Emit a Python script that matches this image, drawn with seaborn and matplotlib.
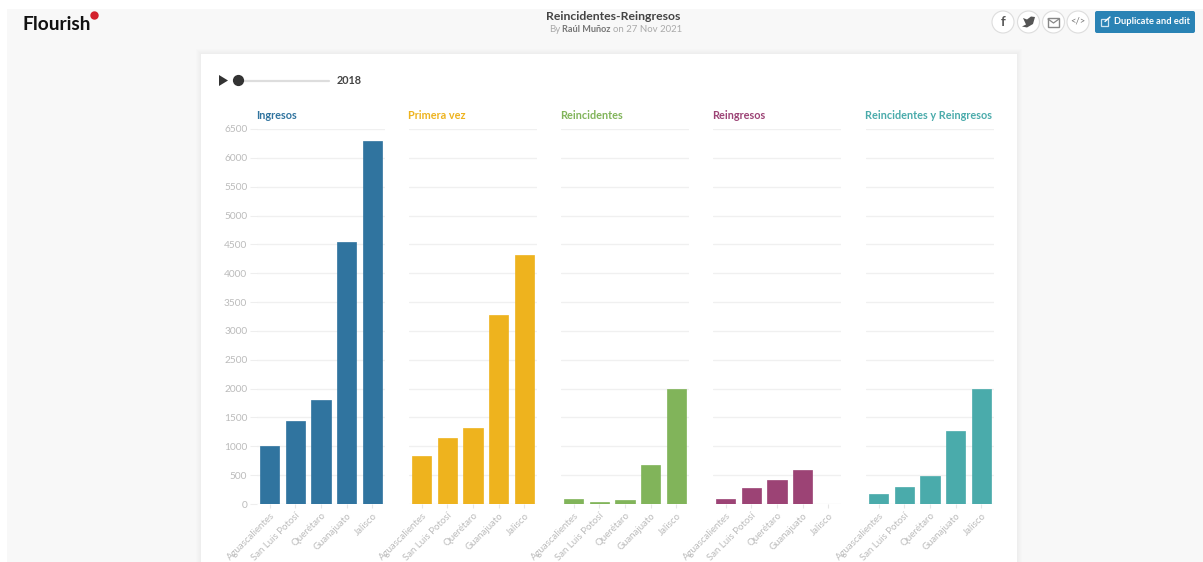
import pandas as pd
import matplotlib.pyplot as plt
from matplotlib.patches import Rectangle, Circle, FancyBboxPatch, Polygon
import seaborn as sns

sns.set_theme(style='white')
plt.rcParams['font.family'] = ['Lato', 'DejaVu Sans']

W, H = 1203, 562

# datos (2018)
estados = ['Aguascalientes', 'San Luis Potosí', 'Querétaro', 'Guanajuato', 'Jalisco']
ingresos = [1010, 1440, 1810, 4540, 6300]
primera_vez = [830, 1140, 1320, 3280, 4320]
reincidentes = [90, 40, 70, 680, 1990]
reingresos = [90, 270, 420, 590, 0]
reinc_y_reing = [180, 300, 490, 1270, 1990]

titulos = ['Ingresos', 'Primera vez', 'Reincidentes', 'Reingresos', 'Reincidentes y Reingresos']
series = [ingresos, primera_vez, reincidentes, reingresos, reinc_y_reing]
colores = ['#30749f', '#eeb31e', '#81b45a', '#9c4375', '#4aabab']
y_ticks = list(range(0, 7000, 500))

izquierdas = [257, 409, 561, 713, 866]
ancho_panel = 128
y_base, y_tope = 504, 129

fig = plt.figure(figsize=(W / 100, H / 100), dpi=100, facecolor='white')

# fondo de la pagina, en pixeles
bg = fig.add_axes([0, 0, 1, 1], zorder=0)
bg.set_xlim(0, W)
bg.set_ylim(H, 0)
bg.axis('off')
bg.add_patch(Rectangle((7, 9), W - 7, H - 9, fc='#f8f8f8', ec='none'))
for i in range(6):
    bg.add_patch(Rectangle((201 - i, 54 - i), 816 + 2 * i, H, fc='#000000', alpha=0.008, ec='none'))
bg.add_patch(Rectangle((201, 54), 816, H, fc='white', ec='none'))

# logo y encabezado
bg.text(22, 25, 'Flourish', fontsize=13.8, color='#111111', va='center', weight='bold')
bg.add_patch(Circle((94.5, 15.5), 4.2, fc='#d3212d', ec='none'))
bg.text(613, 16, 'Reincidentes-Reingresos', fontsize=8.8, weight='bold', color='#444444', ha='center', va='center')
bg.text(549, 30, 'By', fontsize=7, color='#aaaaaa', va='center')
bg.text(562, 30, 'Raúl Muñoz', fontsize=6.6, color='#777777', weight='bold', va='center')
bg.text(613, 30, 'on 27 Nov 2021', fontsize=6.9, color='#aaaaaa', va='center')

# botones
for cx in [1003, 1028.5, 1053.5, 1078]:
    bg.add_patch(Circle((cx, 22), 11, fc='white', ec='#dddddd', lw=0.8))
bg.text(1003, 21.5, 'f', fontsize=9.5, weight='bold', color='#555555', ha='center', va='center')
bg.add_patch(Polygon([(1023, 18), (1027, 19.5), (1031, 16.5), (1035, 17), (1033, 24), (1027, 27.5), (1022, 26.5),
                      (1026, 24.5)], fc='#555555', ec='none'))
bg.add_patch(Rectangle((1048, 17.5), 11, 9, fc='none', ec='#888888', lw=1))
bg.plot([1048, 1053.5, 1059], [19, 23, 19], color='#888888', lw=0.9)
bg.text(1078, 21.5, '</>', fontsize=6.8, color='#777777', ha='center', va='center')
bg.add_patch(FancyBboxPatch((1095, 11), 100, 22, boxstyle='round,pad=0,rounding_size=2', fc='#2a83b5', ec='none'))
bg.add_patch(Rectangle((1101, 19), 7, 7, fc='none', ec='#cfe4f0', lw=0.9))
bg.plot([1105, 1110], [21.5, 17], color='white', lw=1)
bg.text(1114, 22, 'Duplicate and edit', fontsize=6.7, weight='bold', color='white', va='center')

# control de tiempo
bg.add_patch(Polygon([(219, 75), (219, 86), (228, 80.5)], fc='#333333', ec='none'))
bg.plot([238, 329], [80.5, 80.5], color='#dddddd', lw=1.6, solid_capstyle='round')
bg.add_patch(Circle((238.5, 80.5), 5.6, fc='#333333', ec='none', zorder=3))
bg.text(337, 81, '2018', fontsize=7.8, weight='bold', color='#444444', va='center')

# un panel de barras por serie
for i in range(len(titulos)):
    df = pd.DataFrame({'estado': estados, 'valor': series[i]})
    ax = fig.add_axes([izquierdas[i] / W, 1 - y_base / H, ancho_panel / W, (y_base - y_tope) / H],
                      zorder=2, facecolor='none')
    sns.barplot(data=df, x='estado', y='valor', color=colores[i], width=0.75, saturation=1,
                edgecolor=colores[i], linewidth=0.5, ax=ax, zorder=3)
    ax.set_xlim(-0.5, 4.5)
    ax.set_ylim(0, 6500)
    ax.set_yticks(y_ticks)
    ax.set_xlabel('')
    ax.set_ylabel('')
    ax.grid(axis='y', color='#f0f0f0', lw=1)
    ax.set_axisbelow(True)
    sns.despine(ax=ax, left=True, top=True, right=True, bottom=True)
    ax.set_xticks(range(len(estados)))
    ax.set_xticklabels(estados, rotation=45, ha='right', rotation_mode='anchor', fontsize=6.9, color='#bbbbbb')
    ax.tick_params(axis='x', length=3, width=0.8, color='#e6e6e6', pad=2, bottom=True)
    if i == 0:
        ax.tick_params(axis='y', length=5, width=0.8, color='#eeeeee', labelsize=7.3, labelcolor='#bbbbbb', pad=2, left=True)
    else:
        ax.tick_params(axis='y', left=False, labelleft=False)
    ax.text(-0.005, 1 + 8 / (y_base - y_tope), titulos[i], transform=ax.transAxes, fontsize=7.85, weight='bold',
            color=colores[i], va='bottom', ha='left')

plt.savefig('out.png', dpi=100)
